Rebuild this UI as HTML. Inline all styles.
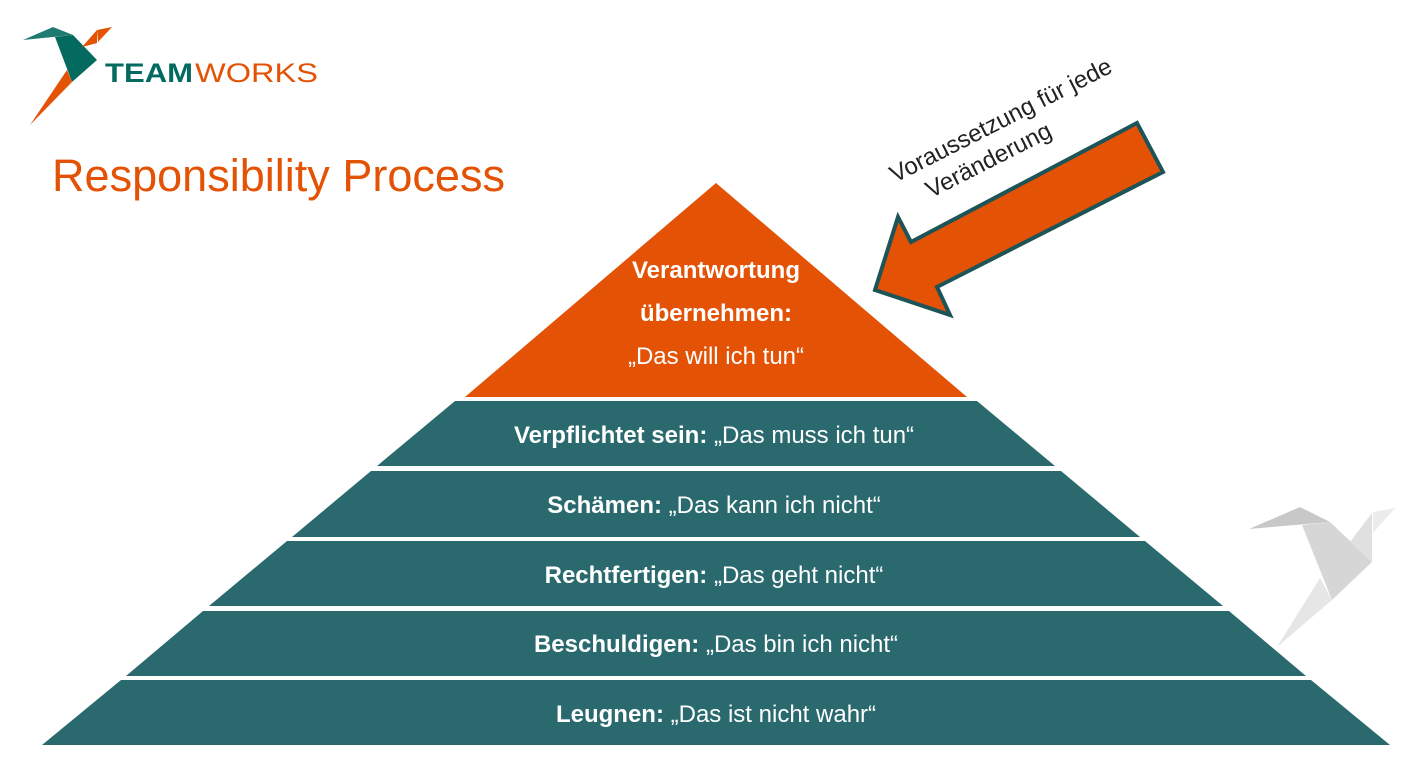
<!DOCTYPE html>
<html><head><meta charset="utf-8"><style>
html,body{margin:0;padding:0;background:#fff;}
svg{display:block;font-family:"Liberation Sans",sans-serif;}
</style></head><body>
<svg width="1426" height="763" viewBox="0 0 1426 763" xmlns="http://www.w3.org/2000/svg">
<!-- logo -->
<polygon points="23,40 53,27 73,35" fill="#1f7a72"/>
<polygon points="55,37 73,35 97,60 72,82" fill="#046a60"/>
<polygon points="82,47 97,30 97,43" fill="#e35205"/>
<polygon points="97,30 112,27 98,42" fill="#e35205"/>
<polygon points="67,70 72,82 30,125" fill="#e35205"/>
<text x="105" y="82" font-size="27" font-weight="bold" fill="#046a60" textLength="88" lengthAdjust="spacingAndGlyphs">TEAM</text>
<text x="195" y="82" font-size="27" fill="#e35205" textLength="123" lengthAdjust="spacingAndGlyphs">WORKS</text>
<text x="52" y="191" font-size="45" fill="#e35205" textLength="453" lengthAdjust="spacingAndGlyphs">Responsibility Process</text>
<!-- gray bird -->
<polygon points="1249,529 1300,507 1330,522" fill="#c8c8c8"/>
<polygon points="1302,525 1330,522 1372,562 1332,600" fill="#d6d6d6"/>
<polygon points="1350,542 1372,513 1372,562" fill="#e0e0e0"/>
<polygon points="1373,512 1395,508 1373,533" fill="#ececec"/>
<polygon points="1320,578 1332,600 1277,647" fill="#e6e6e6"/>
<!-- pyramid -->
<polygon points="716,183 465,397 967,397" fill="#e35205"/>
<g fill="#2a6a6f">
<polygon points="455,401 977,401 1055,466 377,466"/>
<polygon points="371,471 1061,471 1140,537 292,537"/>
<polygon points="287,541 1145,541 1223,606 209,606"/>
<polygon points="203,611 1229,611 1306,676 126,676"/>
<polygon points="121,680 1311,680 1390,745 42,745"/>
</g>
<g fill="#fff" font-size="24" text-anchor="middle">
<text x="716" y="278" font-weight="bold">Verantwortung</text>
<text x="716" y="321" font-weight="bold">übernehmen:</text>
<text x="716" y="364">„Das will ich tun“</text>
<text x="714" y="443"><tspan font-weight="bold">Verpflichtet sein:</tspan> „Das muss ich tun“</text>
<text x="714" y="513"><tspan font-weight="bold">Schämen:</tspan> „Das kann ich nicht“</text>
<text x="714" y="583"><tspan font-weight="bold">Rechtfertigen:</tspan> „Das geht nicht“</text>
<text x="716" y="652"><tspan font-weight="bold">Beschuldigen:</tspan> „Das bin ich nicht“</text>
<text x="716" y="722"><tspan font-weight="bold">Leugnen:</tspan> „Das ist nicht wahr“</text>
</g>
<!-- arrow -->
<polygon points="1137,123 1163,172 937,287 950,315 875,290 898,217 911,242" fill="#e35205" stroke="#1d5458" stroke-width="4" stroke-linejoin="miter"/>
<g transform="rotate(-27 895 183)" font-size="24" fill="#222">
<text x="895" y="183">Voraussetzung für jede</text>
<text x="920" y="213">Veränderung</text>
</g>
</svg>
</body></html>
